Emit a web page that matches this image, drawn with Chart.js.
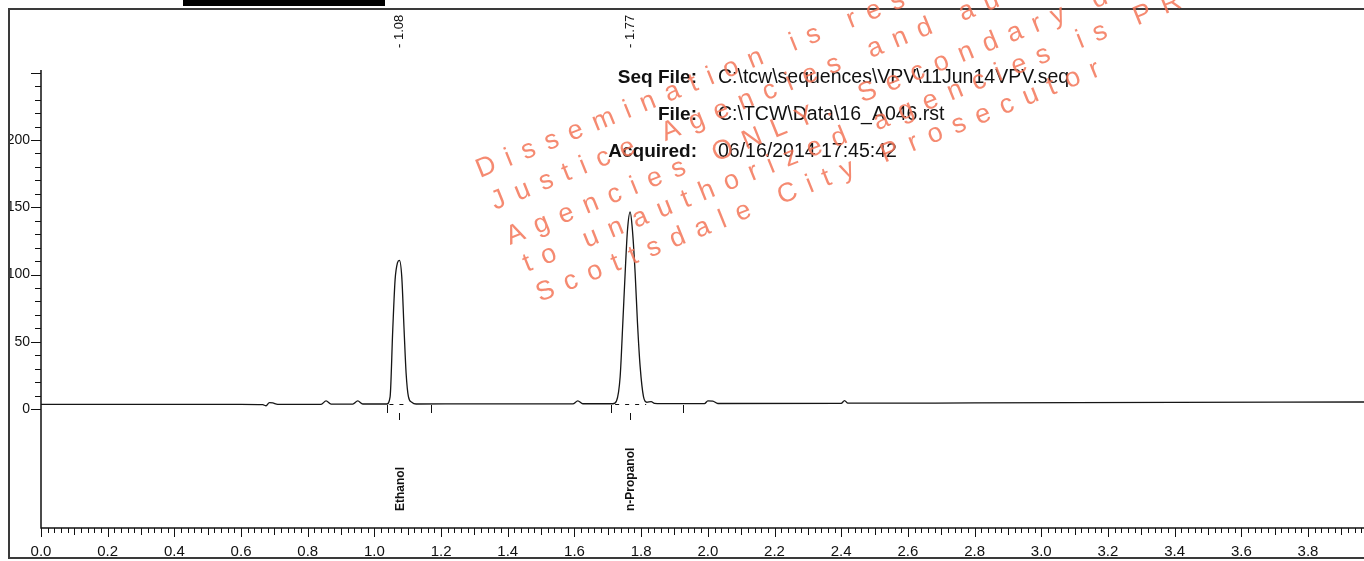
<!DOCTYPE html>
<html>
<head>
<meta charset="utf-8">
<title>Chromatogram</title>
<script src="https://cdn.jsdelivr.net/npm/chart.js@4.4.0/dist/chart.umd.min.js"></script>
<style>
  html, body { margin: 0; padding: 0; background: #fff; }
  canvas { display: block; }
</style>
</head>
<body>
<canvas id="chrom" width="1364" height="561"></canvas>
<script>
// detector trace (minutes / mV)
const retTimes = [0, 0.3, 0.6, 0.665, 0.675, 0.685, 0.695, 0.71, 0.84, 0.855, 0.87, 0.935, 0.95, 0.965,
  1.037, 1.047, 1.055, 1.062, 1.069, 1.075, 1.082, 1.089, 1.095, 1.102, 1.112, 1.125, 1.3, 1.595, 1.61, 1.625,
  1.715, 1.726, 1.737, 1.745, 1.752, 1.759, 1.767, 1.773, 1.782, 1.789, 1.797, 1.807, 1.817, 1.83, 1.84, 1.86,
  1.99, 2.0, 2.015, 2.03, 2.4, 2.41, 2.42, 2.8, 3.4, 3.97];
const signal = [3.4, 3.4, 3.4, 3.2, 2.4, 4.8, 4.5, 3.5, 3.5, 6.0, 3.6, 3.6, 6.0, 3.7,
  3.7, 9, 59, 96, 108.6, 110.5, 98.4, 58.8, 26.8, 9.2, 5, 3.7, 3.8, 3.8, 6, 3.9,
  3.9, 6, 24, 64, 101, 133, 146.5, 135.6, 101, 64, 31.5, 9.2, 5, 5.5, 4.2, 4.0,
  4.0, 6, 5.8, 4.1, 4.2, 6.2, 4.3, 4.5, 4.9, 5.2];

// peak table
const peakNames = ['Ethanol', 'n-Propanol'];
const peakTimes = [1.08, 1.77];
const peakApex = [1.075, 1.767];
const eventMarks = [1.037, 1.17, 1.71, 1.926];
const baseDash = [[1.045, 1.105], [1.722, 1.815]];

// axis labels
const yLabels = [0, 50, 100, 150, 200];
const xLabels = ['0.0', '0.2', '0.4', '0.6', '0.8', '1.0', '1.2', '1.4', '1.6', '1.8', '2.0',
  '2.2', '2.4', '2.6', '2.8', '3.0', '3.2', '3.4', '3.6', '3.8'];

// report header
const headerKeys = ['Seq File:', 'File:', 'Acquired:'];
const headerVals = ['C:\\tcw\\sequences\\VPV\\11Jun14VPV.seq', 'C:\\TCW\\Data\\16_A046.rst', '06/16/2014 17:45:42'];

// stamp across the page
const wmLines = ['Dissemination is restricted to law enforcement',
  'Justice Agencies and authorized personnel',
  'Agencies ONLY. Secondary dissemination',
  'to unauthorized agencies is PROHIBITED',
  'Scottsdale City Prosecutor'];
const wmX = [480, 495, 510, 527, 540];
const wmY = [178, 210, 245, 272, 302];

const FONT = '"Liberation Sans Narrow", "Liberation Sans", Arial, sans-serif';
const SANS = '"Liberation Sans", Arial, sans-serif';

const decor = {
  id: 'decor',
  beforeDraw(chart) {
    const c = chart.ctx;
    c.save();
    c.fillStyle = '#fff';
    c.fillRect(0, 0, chart.width, chart.height);
    c.strokeStyle = '#3a3a3a';
    c.lineWidth = 2;
    c.beginPath();
    c.moveTo(1364, 9); c.lineTo(9, 9); c.lineTo(9, 558); c.lineTo(1364, 558);
    c.stroke();
    c.fillStyle = '#000';
    c.fillRect(183, 0, 202, 6);
    c.restore();
  },
  afterDatasetsDraw(chart) {
    const c = chart.ctx;
    const x = chart.scales.x, y = chart.scales.y;
    const x0 = x.getPixelForValue(0);
    const yb = chart.chartArea.bottom;
    c.save();
    c.strokeStyle = '#111';
    c.lineWidth = 1.5;
    c.beginPath();
    c.moveTo(x0, y.getPixelForValue(252)); c.lineTo(x0, yb);
    c.lineTo(chart.chartArea.right, yb);
    c.stroke();

    c.lineWidth = 1;
    y.ticks.forEach(t => {
      const py = Math.round(y.getPixelForValue(t.value)) + 0.5;
      const len = t.value % 50 === 0 ? 10 : 6;
      c.beginPath(); c.moveTo(x0 - len, py); c.lineTo(x0, py); c.stroke();
    });
    x.ticks.forEach(t => {
      const px = Math.round(x.getPixelForValue(t.value)) + 0.5;
      const k = Math.round(t.value * 50);
      const len = k % 10 === 0 ? 9 : (k % 5 === 0 ? 7 : 5);
      c.beginPath(); c.moveTo(px, yb); c.lineTo(px, yb + len); c.stroke();
    });

    // integration marks
    const base = y.getPixelForValue(3.7);
    eventMarks.forEach(t => {
      const px = Math.round(x.getPixelForValue(t)) + 0.5;
      c.beginPath(); c.moveTo(px, base + 1); c.lineTo(px, base + 9); c.stroke();
    });
    peakApex.forEach(t => {
      const px = Math.round(x.getPixelForValue(t)) + 0.5;
      c.beginPath(); c.moveTo(px, base + 9); c.lineTo(px, base + 16); c.stroke();
    });
    c.setLineDash([4, 6]);
    baseDash.forEach(d => {
      c.beginPath();
      c.moveTo(x.getPixelForValue(d[0]), base + 0.5);
      c.lineTo(x.getPixelForValue(d[1]), base + 0.5);
      c.stroke();
    });
    c.setLineDash([]);

    // retention time + compound labels
    c.fillStyle = '#111';
    c.textBaseline = 'middle';
    c.textAlign = 'left';
    peakApex.forEach((t, i) => {
      const px = x.getPixelForValue(t);
      c.save();
      c.translate(px, 48);
      c.rotate(-Math.PI / 2);
      c.font = '13px ' + SANS;
      c.fillText('- ' + peakTimes[i].toFixed(2), 0, 0);
      c.restore();
      c.save();
      c.translate(px + 1, 511);
      c.rotate(-Math.PI / 2);
      c.font = 'bold 12px ' + SANS;
      c.fillText(peakNames[i], 0, 0);
      c.restore();
    });
    c.restore();
  },
  afterDraw(chart) {
    const c = chart.ctx;
    c.save();
    c.fillStyle = '#111';
    c.textBaseline = 'alphabetic';
    headerKeys.forEach((k, i) => {
      c.font = 'bold 19px ' + SANS;
      c.textAlign = 'right';
      c.fillText(k, 697, 83 + i * 37);
      c.font = '19.5px ' + SANS;
      c.textAlign = 'left';
      c.fillText(headerVals[i], 718, 83 + i * 37);
    });

    c.fillStyle = 'rgba(243,118,88,0.85)';
    c.font = '27px ' + SANS;
    wmLines.forEach((s, i) => {
      c.save();
      c.translate(wmX[i], wmY[i]);
      c.rotate(-22 * Math.PI / 180);
      let pos = 0;
      for (const ch of s) {
        c.fillText(ch, pos, 0);
        pos += c.measureText(ch).width + 11.5;
      }
      c.restore();
    });
    c.restore();
  }
};

new Chart(document.getElementById('chrom'), {
  type: 'line',
  data: {
    datasets: [{
      data: retTimes.map((t, i) => ({ x: t, y: signal[i] })),
      borderColor: '#151515',
      borderWidth: 1.3,
      pointRadius: 0,
      fill: false,
      cubicInterpolationMode: 'monotone'
    }]
  },
  options: {
    responsive: false,
    devicePixelRatio: 1,
    animation: false,
    layout: { padding: { left: 10, right: 0, top: 10, bottom: 0 } },
    plugins: { legend: { display: false }, tooltip: { enabled: false } },
    scales: {
      x: {
        type: 'linear',
        min: 0,
        max: 3.968,
        afterFit: s => { s.height = 33; s.paddingLeft = 0; s.paddingRight = 0; },
        afterBuildTicks: s => {
          const ticks = [];
          for (let k = 0; k <= 198; k++) ticks.push({ value: k / 50 });
          s.ticks = ticks;
        },
        grid: { display: false },
        border: { display: false },
        ticks: {
          autoSkip: false,
          sampleSize: 400,
          maxRotation: 0,
          minRotation: 0,
          padding: 7,
          color: '#111',
          font: { family: FONT, size: 15 },
          callback: v => {
            const k = Math.round(v * 50);
            return k % 10 === 0 ? xLabels[k / 10] : '';
          }
        }
      },
      y: {
        min: -88.5,
        max: 296.7,
        afterFit: s => { s.width = 31; s.paddingTop = 0; s.paddingBottom = 0; },
        afterBuildTicks: s => {
          const ticks = [];
          for (let v = 0; v <= 250; v += 10) ticks.push({ value: v });
          s.ticks = ticks;
        },
        grid: { display: false },
        border: { display: false },
        ticks: {
          autoSkip: false,
          padding: 3,
          color: '#111',
          font: { family: FONT, size: 14 },
          callback: v => (yLabels.includes(v) ? String(v) : '')
        }
      }
    }
  },
  plugins: [decor]
});
</script>
</body>
</html>
